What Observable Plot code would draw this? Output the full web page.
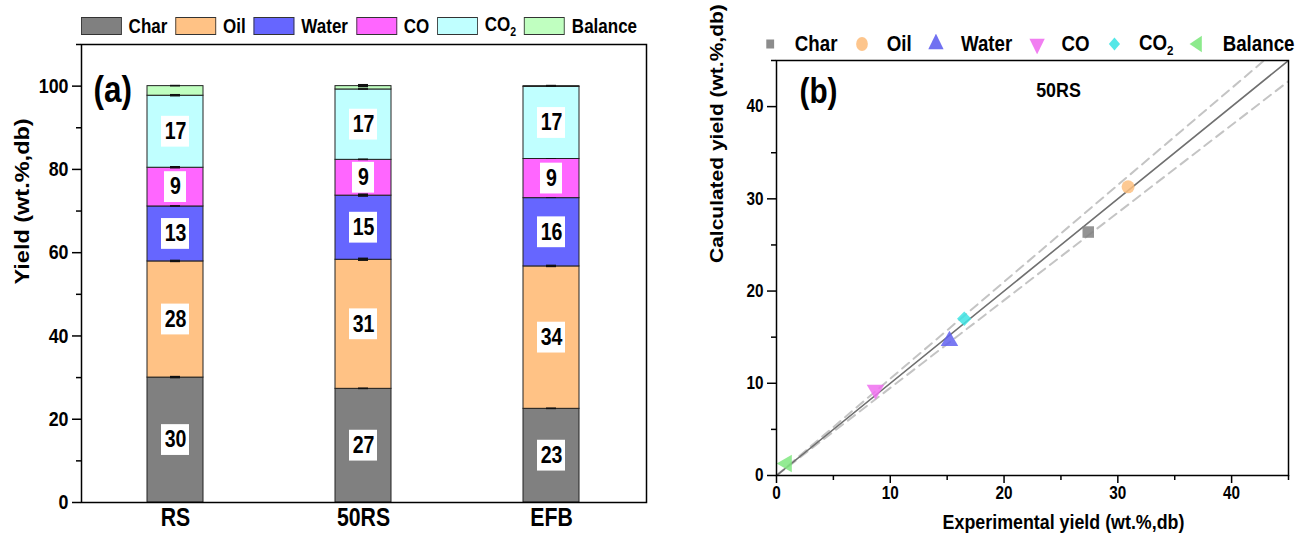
<!DOCTYPE html>
<html><head><meta charset="utf-8">
<script src="https://cdn.jsdelivr.net/npm/d3@7"></script>
<script src="https://cdn.jsdelivr.net/npm/@observablehq/plot@0.6"></script>
<style>
body{margin:0;background:#fff;font-family:"Liberation Sans",Arial,sans-serif;}
#wrap{position:relative;width:1299px;height:535px;overflow:hidden;background:#fff;}
.panel{position:absolute;top:0;}
.legend{position:absolute;display:flex;align-items:center;font-weight:bold;white-space:nowrap;color:#000;transform:scaleX(0.85);transform-origin:0 0;}
.legA{left:81px;top:13px;font-size:20px;}
.legA .item{display:flex;align-items:center;margin-right:9.5px;}
.legA .sw{width:48px;height:18px;border:1px solid #333;margin-right:8px;box-sizing:border-box;}
.legB{left:760px;top:30px;font-size:22px;}
.legB .item{display:flex;align-items:center;margin-right:17px;}
.legB svg{margin-right:17px;}
sub{font-size:62%;vertical-align:-5px;}
</style></head>
<body><div id="wrap"></div>
<script>
// ---------- Panel (a) data ----------
const samples = ["RS", "50RS", "EFB"];
const components = ["Char", "Oil", "Water", "CO", "CO2", "Balance"];
const charYield = [30.0, 27.3, 22.5];
const oilYield = [27.9, 31.0, 34.2];
const waterYield = [13.2, 15.4, 16.4];
const coYield = [9.3, 8.6, 9.4];
const co2Yield = [17.3, 16.9, 17.3];
const balanceYield = [2.3, 0.8, 0.2];
const charErr = [0.3, 0.2, 0.2];
const oilErr = [0.3, 0.4, 0.3];
const waterErr = [0.2, 0.4, 0.1];
const coErr = [0.3, 0.2, 0.1];
const co2Err = [0.3, 0.2, 0.1];
const balanceErr = [0.2, 0.4, 0.2];
const yTicksA = [0, 20, 40, 60, 80, 100];
const yMinorA = [10, 30, 50, 70, 90, 110];
const colorsA = ["#808080", "#FFC285", "#6666FF", "#FF66FF", "#C0FFFF", "#C0FFC0"];

// ---------- Panel (b) data ----------
const experimental = [27.4, 30.9, 15.2, 8.7, 16.5, 0.9];
const calculated = [26.4, 31.3, 14.6, 9.3, 17.0, 1.3];
const ticksB = [0, 10, 20, 30, 40];
const minorB = [5, 15, 25, 35, 45];
const domainB = [0, 45];
const parityFactors = [1.05, 0.95];
const colorsB = ["#808080", "#FDBF80", "#6262F0", "#F070F0", "#40E4E4", "#80E880"];

const SQUEEZE = 0.85;

// custom symbols
const triDown = {draw(ctx, size) {
  const a = Math.sqrt(4 * size / Math.sqrt(3)), h = a * Math.sqrt(3) / 2;
  ctx.moveTo(0, 2 * h / 3); ctx.lineTo(-a / 2, -h / 3); ctx.lineTo(a / 2, -h / 3); ctx.closePath();
}};
const triLeft = {draw(ctx, size) {
  const a = Math.sqrt(4 * size / Math.sqrt(3)), h = a * Math.sqrt(3) / 2;
  ctx.moveTo(-2 * h / 3, 0); ctx.lineTo(h / 3, -a / 2); ctx.lineTo(h / 3, a / 2); ctx.closePath();
}};
const diamond = d3.symbolDiamond2 || {draw(ctx, size) {
  const r = Math.sqrt(size / 2);
  ctx.moveTo(0, -r); ctx.lineTo(r, 0); ctx.lineTo(0, r); ctx.lineTo(-r, 0); ctx.closePath();
}};
const symbolsB = [d3.symbolSquare, d3.symbolCircle, d3.symbolTriangle, triDown, diamond, triLeft];

// ---------- build panel (a) table ----------
const series = [charYield, oilYield, waterYield, coYield, co2Yield, balanceYield];
const errs = [charErr, oilErr, waterErr, coErr, co2Err, balanceErr];
const rows = [];
samples.forEach((s, i) => {
  let acc = 0;
  components.forEach((c, j) => {
    const v = series[j][i];
    rows.push({sample: s, component: c, y1: acc, y2: acc + v, mid: acc + v / 2, value: v, err: errs[j][i], label: Math.round(v)});
    acc += v;
  });
});
const labeled = rows.filter(d => d.component !== "Balance");
const font = "Liberation Sans, Arial, sans-serif";

const plotA = Plot.plot({
  width: 660, height: 535,
  marginLeft: 81, marginRight: 14, marginTop: 44, marginBottom: 33,
  style: {fontFamily: font, color: "#000", background: "transparent"},
  x: {type: "band", domain: samples, paddingInner: 0.7, paddingOuter: 0.35},
  y: {domain: [0, 110]},
  color: {domain: components, range: colorsA},
  marks: [
    Plot.barY(rows, {x: "sample", y1: "y1", y2: "y2", fill: "component", stroke: "#222", strokeWidth: 1}),
    Plot.barY(rows, {x: "sample", y1: d => d.y2 - d.err, y2: d => d.y2 + d.err, fill: "#111", insetLeft: 23, insetRight: 23}),
    Plot.barY(labeled.filter(d => d.label >= 10), {x: "sample", y1: d => d.mid - 3.7, y2: d => d.mid + 3.7, fill: "white", insetLeft: 14, insetRight: 14}),
    Plot.barY(labeled.filter(d => d.label < 10), {x: "sample", y1: d => d.mid - 3.7, y2: d => d.mid + 3.7, fill: "white", insetLeft: 17, insetRight: 17}),
    Plot.text(labeled, {x: "sample", y: "mid", text: "label", fontSize: 23, fontWeight: "bold", fill: "#000"}),
    Plot.frame({stroke: "#000", strokeWidth: 1.5}),
    Plot.axisY({ticks: yTicksA, tickSize: 9, tickPadding: 4, fontSize: 21, fontWeight: "bold", strokeWidth: 1.5, label: null}),
    Plot.axisY({ticks: yMinorA, tickSize: 5, tickFormat: () => "", strokeWidth: 1.5, label: null}),
    Plot.axisX({tickSize: 0, tickPadding: 6, fontSize: 25, fontWeight: "bold", label: null}),
    Plot.text(["(a)"], {frameAnchor: "top-left", dx: 12, dy: 46, lineAnchor: "middle", textAnchor: "start", fontSize: 37, fontWeight: "bold"}),
    Plot.text(["Yield (wt.%,db)"], {frameAnchor: "left", rotate: -90, dx: -59, dy: 11, fontSize: 23.5, fontWeight: "bold"})
  ]
});

// ---------- panel (b) ----------
const points = components.map((c, i) => ({component: c, exp: experimental[i], calc: calculated[i]}));
const parity = [];
domainB.forEach(x => parity.push({kind: "solid", x, y: x}));
parityFactors.forEach(f => domainB.forEach(x => parity.push({kind: "dash" + f, x, y: x * f})));

const plotB = Plot.plot({
  width: 639, height: 535,
  marginLeft: 116, marginRight: 11, marginTop: 60, marginBottom: 60,
  style: {fontFamily: font, color: "#000", background: "transparent"},
  x: {domain: domainB},
  y: {domain: domainB},
  symbol: {domain: components, range: symbolsB},
  color: {domain: components, range: colorsB},
  marks: [
    Plot.line(parity.filter(d => d.kind !== "solid"), {x: "x", y: "y", z: "kind", stroke: "#c4c4c4", strokeWidth: 2, strokeDasharray: "9,6", clip: true}),
    Plot.line(parity.filter(d => d.kind === "solid"), {x: "x", y: "y", stroke: "#707070", strokeWidth: 1.6, clip: true}),
    Plot.dot(points, {x: "exp", y: "calc", symbol: "component", fill: "component", r: 6.5, fillOpacity: 0.85}),
    Plot.frame({stroke: "#000", strokeWidth: 1.5}),
    Plot.axisX({ticks: ticksB, tickSize: 8, tickPadding: 3, fontSize: 18, fontWeight: "bold", strokeWidth: 1.5, label: null}),
    Plot.axisX({ticks: minorB, tickSize: 5, tickFormat: () => "", strokeWidth: 1.5, label: null}),
    Plot.axisY({ticks: ticksB, tickSize: 9, tickPadding: 4, fontSize: 18, fontWeight: "bold", strokeWidth: 1.5, label: null}),
    Plot.axisY({ticks: minorB, tickSize: 5, tickFormat: () => "", strokeWidth: 1.5, label: null}),
    Plot.text(["(b)"], {frameAnchor: "top-left", dx: 23, dy: 31, lineAnchor: "middle", textAnchor: "start", fontSize: 35, fontWeight: "bold"}),
    Plot.text(["50RS"], {frameAnchor: "top", dx: 26, dy: 30, lineAnchor: "middle", fontSize: 21, fontWeight: "bold"}),
    Plot.text(["Experimental yield (wt.%,db)"], {frameAnchor: "bottom", dx: 31, dy: 47, lineAnchor: "middle", fontSize: 21, fontWeight: "bold"}),
    Plot.text(["Calculated yield (wt.%,db)"], {frameAnchor: "left", rotate: -90, dx: -59, dy: -5, fontSize: 21, fontWeight: "bold"})
  ]
});

// squeeze all SVG text horizontally (as in the reference figure)
function squeeze(svg, k) {
  svg.querySelectorAll("text").forEach(t => {
    const tr = t.getAttribute("transform");
    if (tr && /^\s*translate\(/.test(tr)) {
      t.setAttribute("transform", tr.replace(/^\s*(translate\([^)]*\))/, `$1 scale(${k},1)`));
    } else if (!tr) {
      const x = +(t.getAttribute("x") || 0), y = t.getAttribute("y");
      if (!isNaN(x) && (y === null || !isNaN(+y))) {
        t.removeAttribute("x");
        if (y !== null) t.removeAttribute("y");
        t.setAttribute("transform", `translate(${x},${y === null ? 0 : +y}) scale(${k},1)`);
      }
    }
  });
}
squeeze(plotA, SQUEEZE);
squeeze(plotB, SQUEEZE);

const wrap = document.getElementById("wrap");
plotA.classList.add("panel"); plotA.style.left = "0px";
plotB.classList.add("panel"); plotB.style.left = "660px";
wrap.appendChild(plotA);
wrap.appendChild(plotB);

const nameHTML = c => c === "CO2" ? "CO<sub>2</sub>" : c;
// legend (a)
const legA = document.createElement("div");
legA.className = "legend legA";
components.forEach((c, i) => {
  const it = document.createElement("div"); it.className = "item";
  it.innerHTML = `<div class="sw" style="background:${colorsA[i]}"></div><span>${nameHTML(c)}</span>`;
  legA.appendChild(it);
});
wrap.appendChild(legA);
// legend (b)
const legB = document.createElement("div");
legB.className = "legend legB";
const legSizes = [85, 150, 140, 140, 110, 120];
components.forEach((c, i) => {
  const it = document.createElement("div"); it.className = "item";
  const path = d3.symbol(symbolsB[i], legSizes[i])();
  it.innerHTML = `<svg width="24" height="20" viewBox="-12 -10 24 20"><path d="${path}" fill="${colorsB[i]}" fill-opacity="0.9"></path></svg><span>${nameHTML(c)}</span>`;
  legB.appendChild(it);
});
wrap.appendChild(legB);
</script>
</body></html>
